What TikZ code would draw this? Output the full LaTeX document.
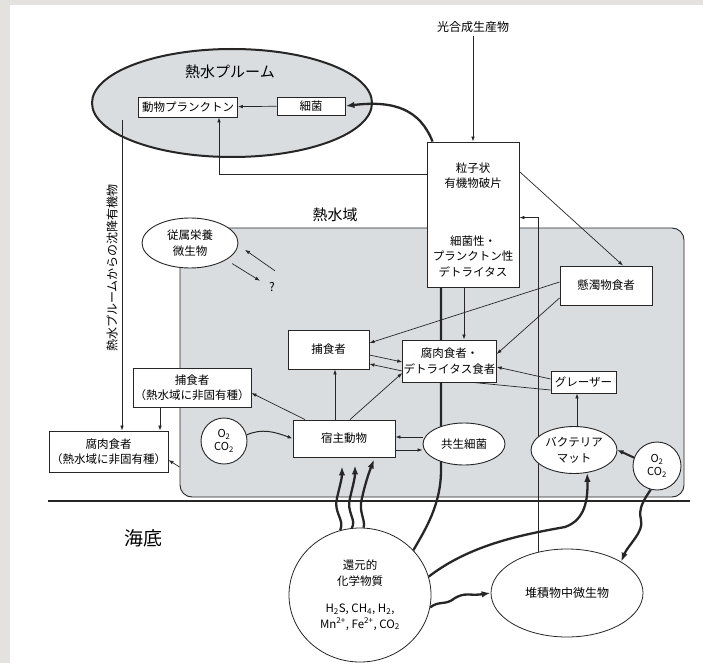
\documentclass[tikz,border=0pt]{standalone}
\usepackage{fontspec}
\setmainfont{Noto Sans CJK JP}
\usetikzlibrary{shapes.geometric,arrows.meta}
\definecolor{ink}{RGB}{38,38,38}
\definecolor{zone}{RGB}{217,221,224}
\definecolor{frame}{RGB}{228,226,223}

\begin{document}
\begin{tikzpicture}[x=1pt,y=-1pt,
    box/.style={draw=ink, line width=0.9pt, fill=white, inner sep=1pt, align=center,
      font=\fontsize{11.5}{15.5}\selectfont},
    oval/.style={box, ellipse},
    lbl/.style={font=\fontsize{12}{15}\selectfont, align=center},
    big/.style={font=\fontsize{15}{18}\selectfont},
    flow/.style={draw=ink, line width=0.7pt, -{Latex[length=5pt,width=3.6pt]}},
    heavy/.style={draw=ink, line width=2.3pt, -{Latex[length=9pt,width=6.5pt]}}]
  \useasboundingbox (0,0) rectangle (703,663);
  % marco
  \fill[frame] (0,0) rectangle (703,663);
  \fill[white] (10,5) rectangle (703,663);
  % zona hidrotermal
  \node[draw=ink, line width=0.9pt, fill=zone, rounded corners=12pt,
    minimum width=504pt, minimum height=269pt] (vent) at (432,362.5) {};
  \node[big] (ventlabel) at (335,215) {熱水域};
  \draw[ink, line width=2.6pt] (48,501) -- (690,501);
  \node[font=\fontsize{19}{22}\selectfont] (floor) at (143,538) {海底};
  % pluma
  \node[ellipse, draw=ink, line width=2pt, fill=zone, minimum width=280pt,
    minimum height=108pt] (plume) at (232,103) {};
  \node[big] (plumelabel) at (230,72) {熱水プルーム};
  \node[box, minimum width=99pt, minimum height=20pt] (zoo) at (188,107) {動物プランクトン};
  \node[box, minimum width=68pt, minimum height=18pt] (bact) at (311,106) {細菌};
  % detritos
  \node[box, minimum width=92pt, minimum height=145pt] (detritus) at (473,214.5) {};
  \node[box, draw=none, fill=none] (detritustop) at ([yshift=-34pt]detritus.north) {粒子状\\有機物破片};
  \node[box, draw=none, fill=none] (detritusbot) at ([yshift=31pt]detritus.south) {細菌性・\\プランクトン性\\デトライタス};
  \node[lbl] (photo) at (473,27) {光合成生産物};
  % fondo
  \node[oval, line width=0.8pt, minimum width=142pt, minimum height=134pt] (chem) at (360,595)
    {還元的\\化学物質\\[12pt]H\textsubscript{2}S, CH\textsubscript{4}, H\textsubscript{2},\\Mn\textsuperscript{2+}, Fe\textsuperscript{2+}, CO\textsubscript{2}};
  \node[oval, line width=0.8pt, minimum width=152pt, minimum height=88pt, font=\fontsize{12}{15}\selectfont] (sed) at (567,593) {堆積物中微生物};
  % lineas detras
  \draw[ink, line width=2.3pt] ([xshift=-32pt]detritus.south) -- (441,470)
    .. controls (441,505) and (425,530) .. (chem.40);
  \draw[flow] (sed.125) |- ([yshift=-76pt]detritus.north east);
  % nodos de la zona
  \node[oval, minimum width=96pt, minimum height=50pt] (hetero) at (190,243) {従属栄養\\微生物};
  \node[lbl] (q) at (272,287) {?};
  \node[box, minimum width=92pt, minimum height=39pt] (susp) at (606,285.5) {懸濁物食者};
  \node[box, minimum width=81pt, minimum height=39pt] (pred) at (328.5,349.5) {捕食者};
  \node[box, minimum width=93pt, minimum height=42pt] (scav) at (449.5,361) {腐肉食者・\\デトライタス食者};
  \node[box, minimum width=118pt, minimum height=39pt] (pred2) at (192,387.5) {捕食者\\（熱水域に非固有種）};
  \node[box, minimum width=119pt, minimum height=41pt] (scav2) at (108.5,451.5) {腐肉食者\\（熱水域に非固有種）};
  \node[box, circle, minimum size=46pt, font=\fontsize{11}{13}\selectfont] (o2a) at (224,441) {O\textsubscript{2}\\CO\textsubscript{2}};
  \node[box, minimum width=102pt, minimum height=37pt] (host) at (344,438.5) {宿主動物};
  \node[oval, minimum width=82pt, minimum height=42pt] (symb) at (464,444) {共生細菌};
  \node[box, minimum width=65pt, minimum height=22pt] (grazer) at (583.5,382) {グレーザー};
  \node[oval, minimum width=86pt, minimum height=47pt] (mat) at (574,450) {バクテリア\\マット};
  \node[box, circle, minimum size=48pt, font=\fontsize{11}{13}\selectfont] (o2b) at (657,466) {O\textsubscript{2}\\CO\textsubscript{2}};
  % flechas de arriba
  \draw[flow] (bact) -- (zoo);
  \draw[heavy] ([xshift=6pt]detritus.north west) .. controls (420,110) and (395,100) .. (bact.east);
  \draw[flow] (photo) -- (detritus);
  \draw[flow] ([yshift=-33pt]detritus.north west) -| ([xshift=31pt]zoo.south);
  \draw[flow] ([yshift=-30pt]detritus.north east) -- ([xshift=17pt]susp.north);
  \draw[flow] ([xshift=-9pt]detritus.south) -- ([xshift=-9pt]detritus.south |- scav.north);
  \coordinate (plumefoot) at (122,120);
  \draw[flow] (plumefoot) -- (plumefoot |- scav2.north);
  \node[lbl, rotate=90] (sinklabel) at (112,268) {熱水プルームからの沈降有機物};
  % flechas de la zona
  \draw[flow] ([shift={(3pt,8pt)}]q.north) -- ([shift={(-27pt,29pt)}]q.north);
  \draw[flow, shorten <=7pt] (hetero.335) -- ([shift={(-12pt,-2pt)}]q.north);
  \draw[flow] ([yshift=3.5pt]susp.west) -- ([yshift=6.5pt]pred.east);
  \draw[flow] ([yshift=-12.5pt]susp.west) -- ([yshift=7pt]scav.east);
  \draw[flow] ([yshift=-5.5pt]pred.east) -- ([yshift=-1pt]scav.west);
  \draw[flow] ([yshift=-10pt]scav.west) -- ([yshift=-14.5pt]pred.east);
  \draw[flow] ([xshift=-39pt]host.north) -- ([yshift=-5.5pt]pred2.east);
  \draw[flow] ([xshift=-9pt]host.north) -- ([xshift=-9pt]host.north |- pred.south);
  \draw[flow] ([xshift=6pt]host.north) -- ([yshift=-12pt]scav.west);
  \draw[flow] ([xshift=-32pt]pred2.south) -- ([xshift=-32pt]pred2.south |- scav2.north);
  \draw[flow] ([yshift=-104.5pt]vent.west) -- ([yshift=-8.5pt]scav2.east);
  \draw[flow, line width=1pt] (o2a.15) .. controls (262,428) and (275,432) .. (host.west);
  \draw[flow] ([yshift=7pt]symb.west) -- ([yshift=1.5pt]host.east);
  \draw[flow] ([yshift=-11.5pt]host.east) -- ([yshift=-6pt]symb.west);
  \draw[flow] ([yshift=3pt]grazer.west) -- ([yshift=-6pt]scav.east);
  \draw[ink, line width=0.7pt] ([yshift=-8pt]grazer.west) -- ([xshift=23.5pt]scav.south);
  \draw[flow] ([xshift=3pt]mat.north) -- ([xshift=-6.5pt]grazer.south);
  \draw[heavy, line width=2pt, -{Latex[length=6pt,width=5pt]}] (o2b.160) -- (mat.east);
  % flechas gruesas del fondo
  \draw[heavy] (o2b.255) .. controls (644,500) and (638,508) .. (641,520)
    .. controls (644,532) and (628,545) .. (sed.30);
  \draw[heavy] (chem.107) .. controls (345,520) and (333,512) .. (337,498)
    .. controls (340,485) and (342,478) .. ([xshift=-2pt,yshift=-9pt]host.south);
  \draw[heavy] (chem.97) .. controls (357,520) and (346,512) .. (350,498)
    .. controls (353,485) and (355,478) .. ([xshift=11pt,yshift=-8pt]host.south);
  \draw[heavy] (chem.87) .. controls (366,520) and (358,512) .. (362,498)
    .. controls (366,480) and (370,470) .. ([xshift=30pt,yshift=-2pt]host.south);
  \draw[heavy] (chem.15) .. controls (470,545) and (520,535) .. (565,527)
    .. controls (585,520) and (588,500) .. (mat.300);
  \draw[heavy] (chem.350) .. controls (440,600) and (445,606) .. (455,598)
    .. controls (465,592) and (470,596) .. (sed.west);
\end{tikzpicture}
\end{document}
